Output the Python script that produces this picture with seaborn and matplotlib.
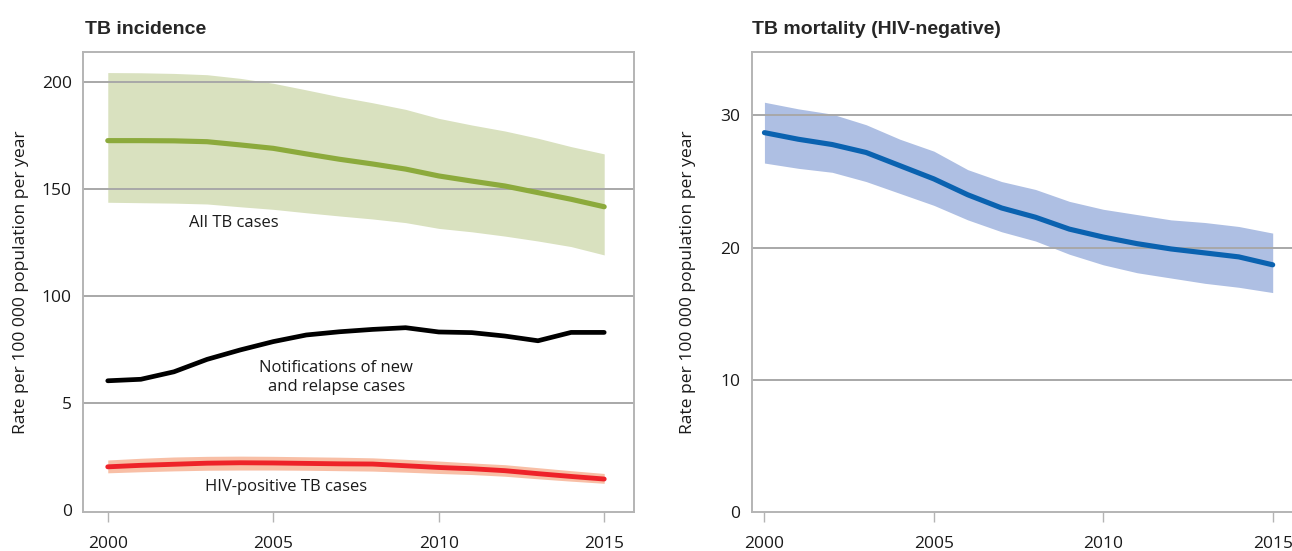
import numpy as np
import pandas as pd
import matplotlib
matplotlib.use("Agg")
import matplotlib.pyplot as plt
import seaborn as sns

# Data
years = list(range(2000, 2016))

# TB incidence (rate per 100 000 population per year)
all_tb = [172.6, 172.6, 172.5, 172.1, 170.6, 169.0, 166.4, 163.9, 161.7, 159.3,
          156.1, 153.7, 151.4, 148.3, 145.2, 141.7]
all_tb_hi = [204.4, 204.3, 204.0, 203.4, 201.7, 199.4, 196.3, 193.1, 190.3, 187.2,
             183.0, 179.9, 177.1, 173.7, 169.8, 166.4]
all_tb_lo = [143.8, 143.6, 143.4, 143.0, 141.7, 140.5, 138.9, 137.4, 136.0, 134.3,
             131.6, 130.0, 128.0, 125.7, 123.1, 119.2]

notified = [60.4, 61.1, 64.6, 70.4, 74.8, 78.7, 81.8, 83.3, 84.4, 85.2,
            83.2, 82.9, 81.3, 79.1, 83.0, 83.0]

hiv_pos = [20.2, 20.9, 21.4, 21.9, 22.1, 22.0, 21.8, 21.6, 21.5, 20.7,
           19.9, 19.3, 18.4, 17.0, 15.7, 14.5]
hiv_pos_hi = [23.4, 24.2, 24.8, 25.1, 25.2, 25.1, 24.9, 24.7, 24.4, 23.7,
              22.9, 22.0, 21.2, 19.8, 18.4, 17.1]
hiv_pos_lo = [17.4, 17.9, 18.3, 18.6, 18.7, 18.7, 18.6, 18.4, 18.2, 17.7,
              17.1, 16.6, 15.8, 14.6, 13.5, 12.5]

# TB mortality (HIV-negative)
mortality = [28.7, 28.2, 27.8, 27.2, 26.2, 25.2, 24.0, 23.0, 22.3, 21.4,
             20.8, 20.3, 19.9, 19.6, 19.3, 18.7]
mortality_hi = [31.0, 30.5, 30.1, 29.3, 28.2, 27.3, 25.9, 25.0, 24.4, 23.5,
                22.9, 22.5, 22.1, 21.9, 21.6, 21.1]
mortality_lo = [26.4, 26.0, 25.7, 25.0, 24.1, 23.2, 22.1, 21.2, 20.5, 19.5,
                18.7, 18.1, 17.7, 17.3, 17.0, 16.6]

left_yticks = [0, 50, 100, 150, 200]
left_yticklabels = ["0", "5", "100", "150", "200"]
right_yticks = [0, 10, 20, 30]
xticks = [2000, 2005, 2010, 2015]

ylabel = "Rate per 100 000 population per year"

sns.set_theme(style="white")
plt.rcParams['font.family'] = ['Open Sans', 'DejaVu Sans']

FRAME = "#b4b4b4"
GRID = "#a8a8a8"
TEXT = "#1a1a1a"

fig = plt.figure(figsize=(12.92, 5.51), dpi=100)
ax1 = fig.add_axes([0.0642, 0.0708, 0.4265, 0.8348])
ax2 = fig.add_axes([0.5817, 0.0708, 0.4183, 0.8348])

df_inc = pd.DataFrame({"year": years, "all": all_tb, "notified": notified, "hiv": hiv_pos})
df_mort = pd.DataFrame({"year": years, "mort": mortality})


def style_axis(ax, yticks, yticklabels, ylim, xlim, label_x):
    ax.set_xlim(*xlim)
    ax.set_ylim(*ylim)
    ax.set_yticks(yticks)
    ax.set_yticklabels(yticklabels)
    ax.set_xticks(xticks)
    ax.set_xticklabels([str(x) for x in xticks])
    for y in yticks[1:]:
        ax.axhline(y, color=GRID, lw=1.4, zorder=1)
    for side in ax.spines:
        ax.spines[side].set_color(FRAME)
        ax.spines[side].set_linewidth(1.4)
    ax.tick_params(axis="y", length=0, pad=8, labelsize=12.5, labelcolor=TEXT)
    ax.tick_params(axis="x", bottom=True, length=7, width=1.0, color=FRAME,
                   pad=10, labelsize=12.5, labelcolor=TEXT)
    ax.set_xlabel("")
    ax.set_ylabel(ylabel, fontsize=12.6, color=TEXT)
    ax.yaxis.set_label_coords(label_x, 0.5)
    ax.grid(False)


# Left panel: TB incidence
ax1.fill_between(years, all_tb_lo, all_tb_hi, color="#d9e1bf", lw=0, zorder=0)
ax1.fill_between(years, hiv_pos_lo, hiv_pos_hi, color="#f8bfa6", lw=0, zorder=2)
sns.lineplot(data=df_inc, x="year", y="all", ax=ax1, color="#8caa3c", lw=3.7,
             solid_capstyle="round", zorder=3)
sns.lineplot(data=df_inc, x="year", y="notified", ax=ax1, color="#000000", lw=3.4,
             solid_capstyle="round", zorder=3)
sns.lineplot(data=df_inc, x="year", y="hiv", ax=ax1, color="#ee2229", lw=3.5,
             solid_capstyle="round", zorder=3)
style_axis(ax1, left_yticks, left_yticklabels, (-0.9, 214.0), (1999.25, 2015.9), -0.098)

ax1.text(2003.8, 134, "All TB cases", ha="center", va="center", fontsize=12, color=TEXT)
ax1.text(2006.9, 62, "Notifications of new\nand relapse cases", ha="center", va="center",
         fontsize=12, color=TEXT, linespacing=1.25)
ax1.text(2005.4, 10.8, "HIV-positive TB cases", ha="center", va="center", fontsize=12,
         color=TEXT)

# Right panel: TB mortality
ax2.fill_between(years, mortality_lo, mortality_hi, color="#aebfe3", lw=0, zorder=0)
sns.lineplot(data=df_mort, x="year", y="mort", ax=ax2, color="#0a62b0", lw=3.7,
             solid_capstyle="round", zorder=3)
style_axis(ax2, right_yticks, [str(v) for v in right_yticks], (0, 34.8), (1999.62, 2015.57), -0.1035)
ax2.spines["right"].set_visible(False)

fig.text(0.066, 0.938, "TB incidence", fontsize=14, fontweight="bold",
         family=["Liberation Sans", "DejaVu Sans"], va="baseline", ha="left")
fig.text(0.582, 0.938, "TB mortality (HIV-negative)", fontsize=14, fontweight="bold",
         family=["Liberation Sans", "DejaVu Sans"], va="baseline", ha="left")

fig.savefig("out.png", dpi=100)
